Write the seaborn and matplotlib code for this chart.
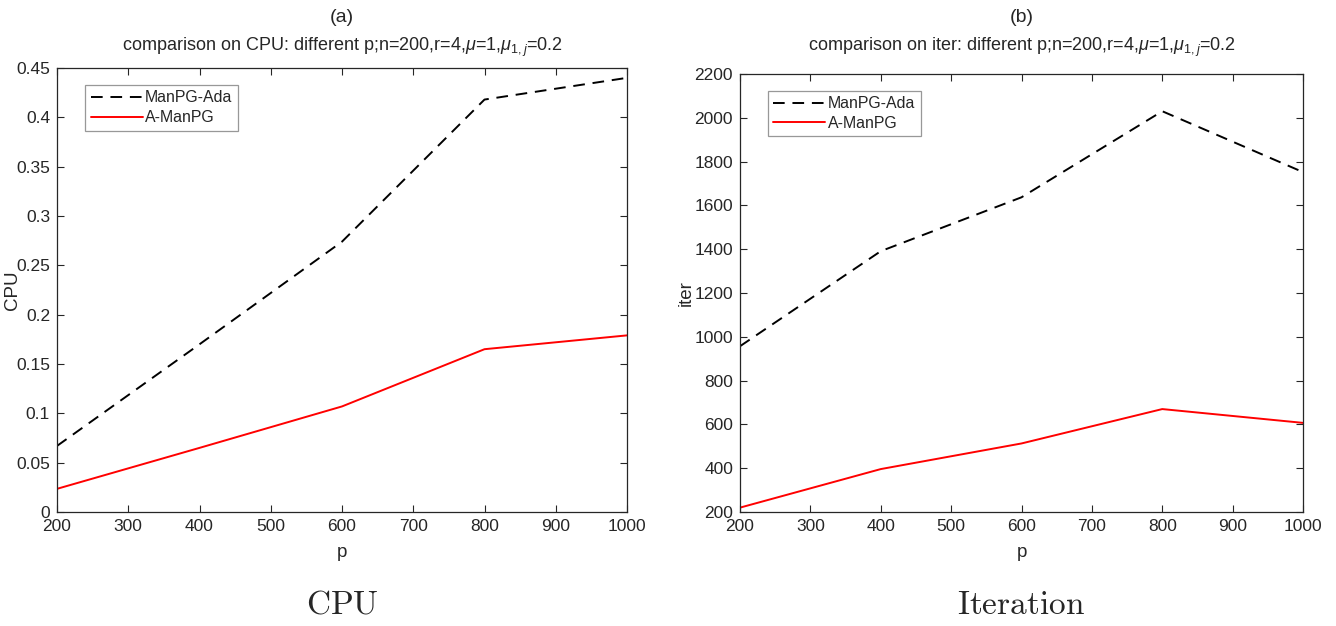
import pandas as pd
import matplotlib
matplotlib.use('Agg')
import matplotlib.pyplot as plt
import seaborn as sns

p = [200, 400, 600, 800, 1000]
cpu_ada = [0.067, 0.170, 0.274, 0.418, 0.440]
cpu_a = [0.0235, 0.065, 0.107, 0.165, 0.179]
iter_ada = [957, 1391, 1637, 2030, 1752]
iter_a = [220, 396, 513, 670, 607]
methods = ['ManPG-Ada', 'A-ManPG']

sns.set_style('ticks')
plt.rcParams['font.family'] = ['Liberation Sans', 'DejaVu Sans']
plt.rcParams['mathtext.fontset'] = 'custom'
plt.rcParams['mathtext.it'] = 'Liberation Sans:italic'
plt.rcParams['mathtext.rm'] = 'Liberation Sans'

cpu_df = pd.DataFrame({'p': p * 2, 'val': cpu_ada + cpu_a,
                       'method': [methods[0]] * 5 + [methods[1]] * 5})
iter_df = pd.DataFrame({'p': p * 2, 'val': iter_ada + iter_a,
                        'method': [methods[0]] * 5 + [methods[1]] * 5})

fig = plt.figure(figsize=(13.36, 6.26), dpi=100)
ax1 = fig.add_axes([0.0427, 0.1821, 0.4266, 0.7093])
ax2 = fig.add_axes([0.5539, 0.1821, 0.4214, 0.6997])

pal = {'ManPG-Ada': 'black', 'A-ManPG': 'red'}
dash = {'ManPG-Ada': (6, 4), 'A-ManPG': ''}
ink = '#262626'


def draw(ax, df, ylab, ylim, yticks, tag, what, caption, ylx):
    sns.lineplot(data=df, x='p', y='val', hue='method', style='method',
                 palette=pal, dashes=dash, ax=ax, linewidth=1.4)
    ax.set_xlim(200, 1000)
    ax.set_ylim(*ylim)
    ax.set_xticks(range(200, 1001, 100))
    ax.set_yticks(yticks)
    ax.set_yticklabels([('%g' % t) for t in yticks])
    ax.tick_params(direction='in', length=5, width=0.8, top=True, right=True,
                   labelsize=12.5, colors=ink, pad=5)
    for s in ax.spines.values():
        s.set_visible(True)
        s.set_linewidth(0.9)
        s.set_color(ink)
    ax.set_xlabel('p', fontsize=13.5, color=ink, labelpad=7)
    ax.set_ylabel(ylab, fontsize=13.5, color=ink)
    ax.yaxis.set_label_coords(ylx, 0.5)
    box = ax.get_position()
    cx = box.x0 + box.width / 2
    fig.text(cx, 1 - 18 / 626, tag, ha='center', va='center', fontsize=14,
             color=ink)
    fig.text(cx, 1 - 47 / 626, 'comparison on ' + what +
             r': different p;n=200,r=4,$\mu$=1,$\mu_{1,j}$=0.2',
             ha='center', va='center', fontsize=13, color=ink)
    fig.text(cx, 1 - 605 / 626, caption, ha='center', va='center',
             fontsize=24, math_fontfamily='cm')
    leg = ax.legend(loc='upper left', bbox_to_anchor=(0.049, 0.962),
                    fontsize=11.4, handlelength=3.3, handletextpad=0.15,
                    borderpad=0.35, labelspacing=0.3, fancybox=False,
                    frameon=True, borderaxespad=0.0)
    leg.get_frame().set_edgecolor('#7f7f7f')
    leg.get_frame().set_linewidth(0.9)
    leg.set_title(None)


draw(ax1, cpu_df, 'CPU', (0, 0.45),
     [0, 0.05, 0.1, 0.15, 0.2, 0.25, 0.3, 0.35, 0.4, 0.45], '(a)', 'CPU',
     r'$\mathrm{CPU}$', -0.064)
draw(ax2, iter_df, 'iter', (200, 2200), list(range(200, 2201, 200)), '(b)',
     'iter', r'$\mathrm{Iteration}$', -0.080)

fig.savefig('out.png', dpi=100)
